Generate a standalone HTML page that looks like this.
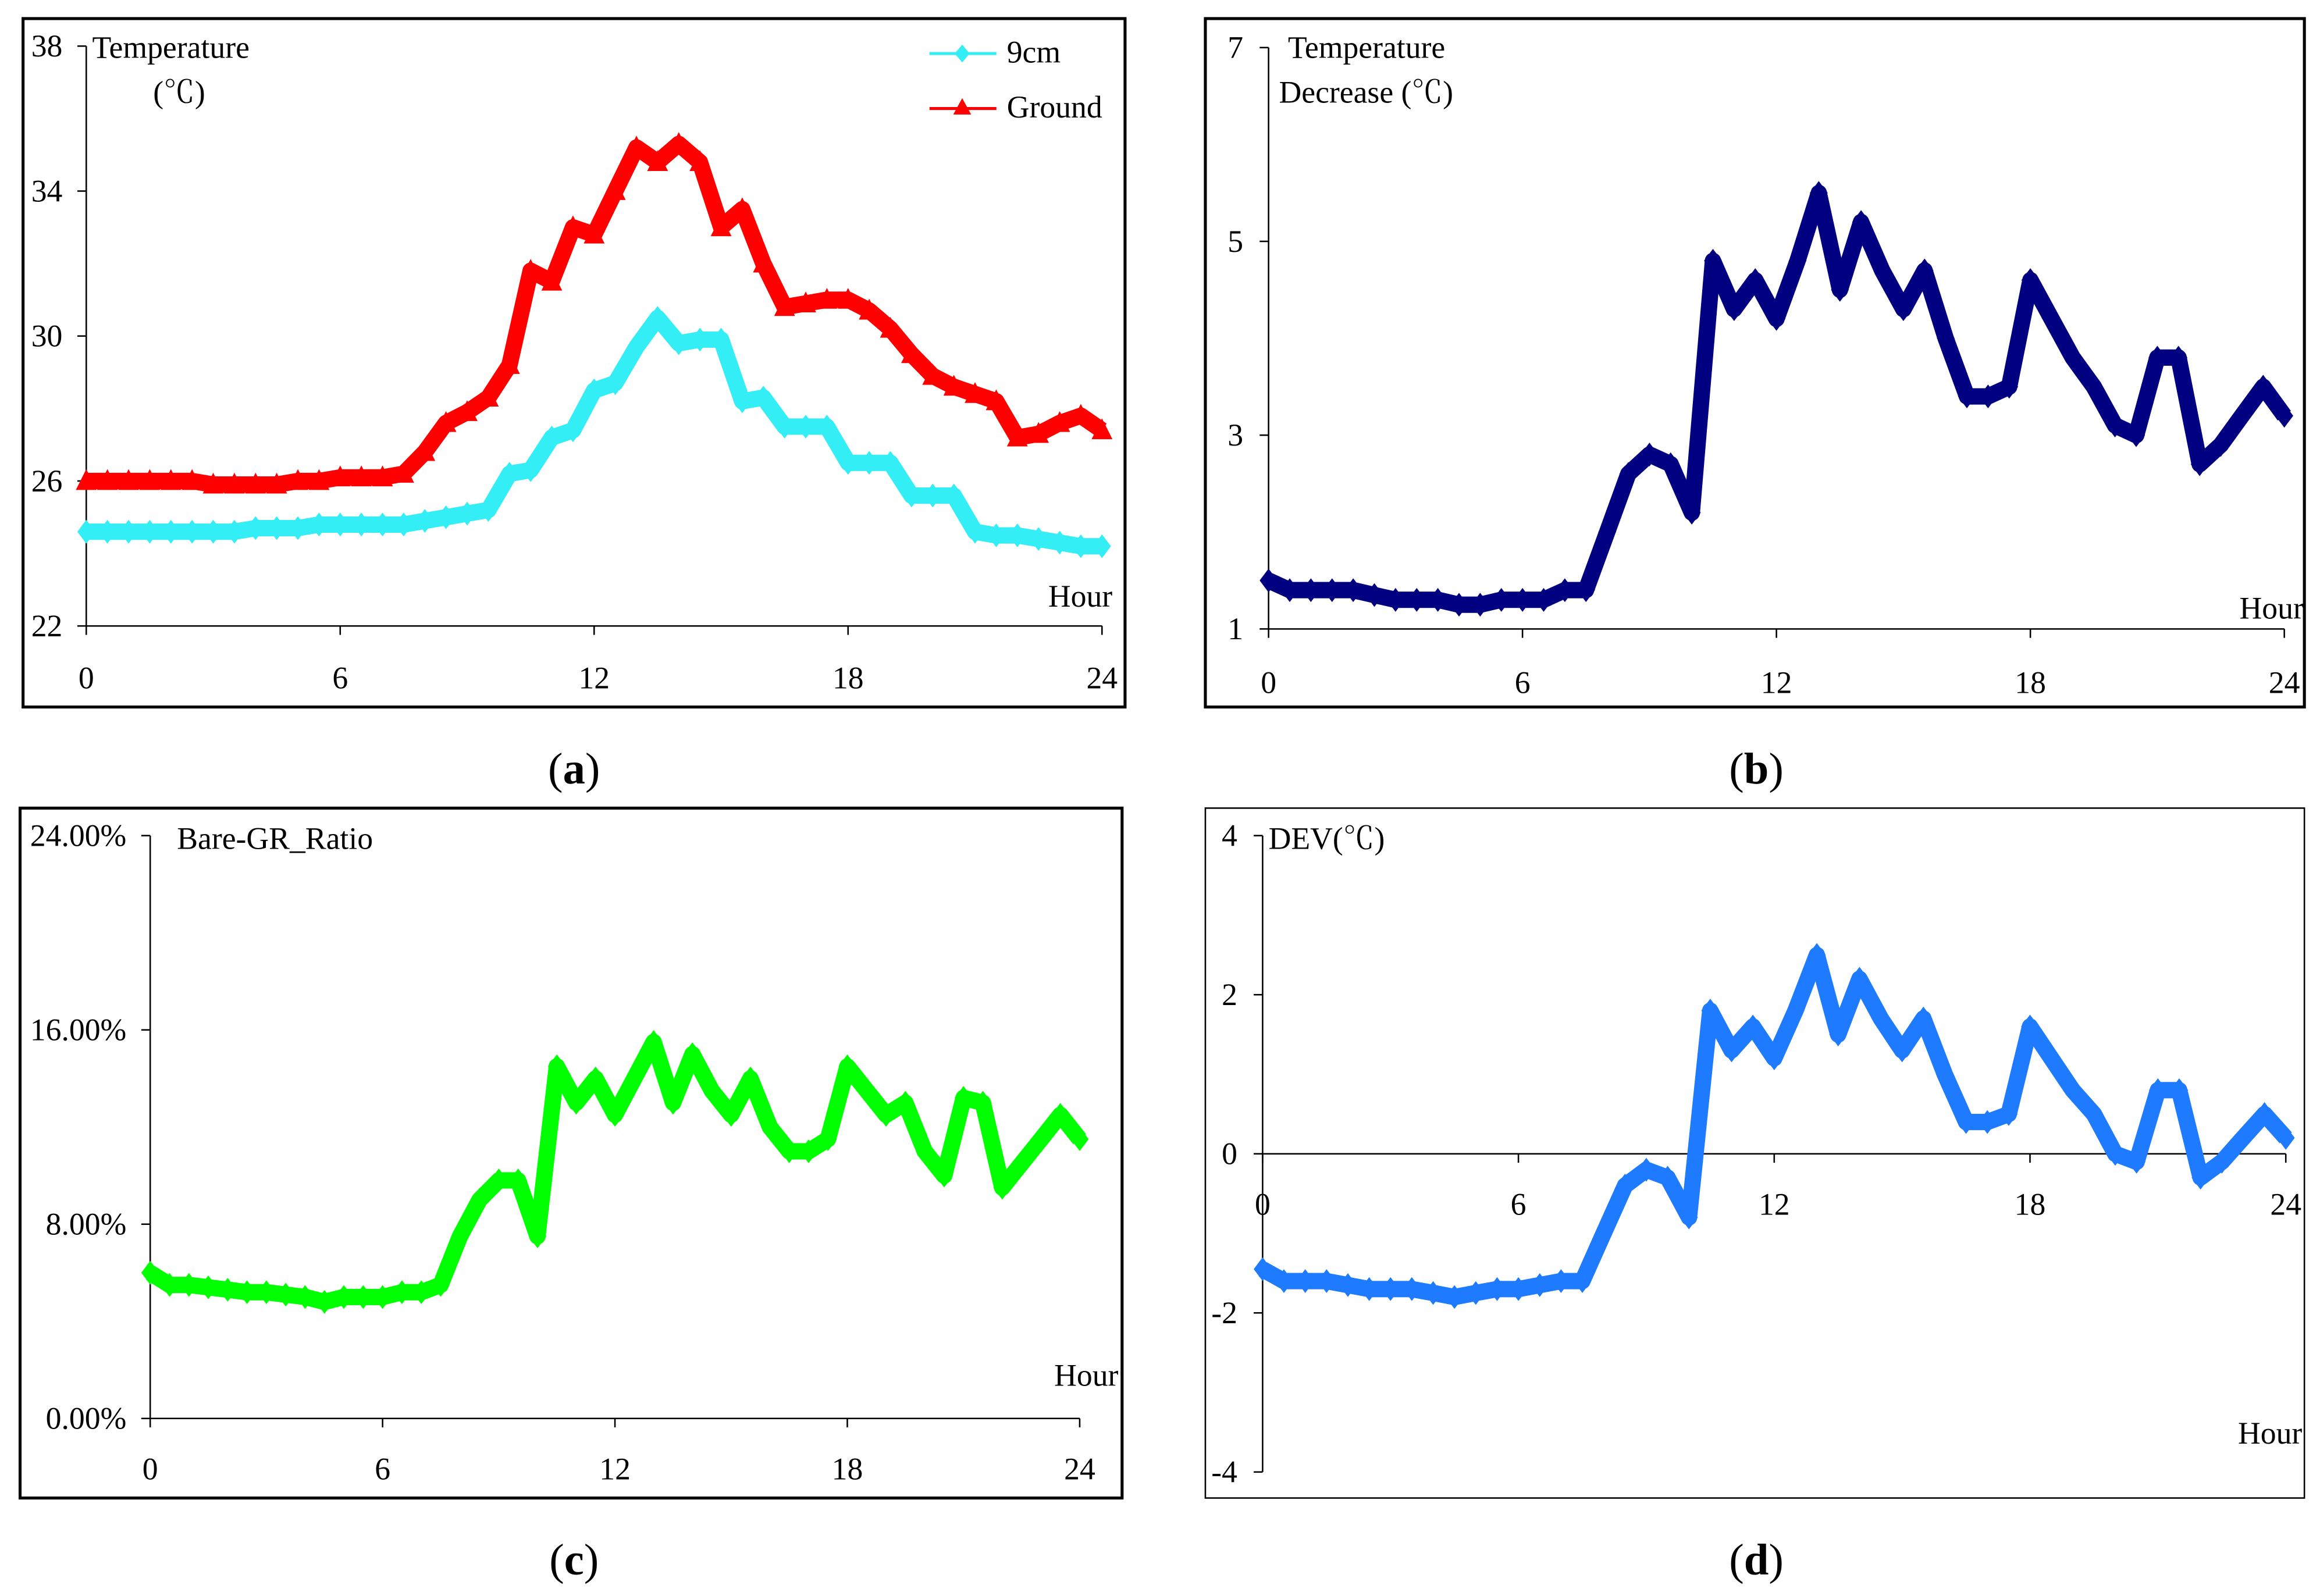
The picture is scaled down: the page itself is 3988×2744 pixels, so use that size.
<!DOCTYPE html>
<html><head><meta charset="utf-8"><style>
html,body{margin:0;padding:0;background:#fff}
svg{display:block}
text{font-family:"Liberation Serif","Noto Serif CJK SC",serif;fill:#000}
</style></head><body>
<svg id="chart" xmlns="http://www.w3.org/2000/svg" width="3988" height="2744" viewBox="0 0 1560 1073.4" preserveAspectRatio="none" font-family="Liberation Serif, Noto Serif CJK SC, serif">
<g><rect x="15.5" y="12.5" width="741" height="463" fill="none" stroke="#000" stroke-width="2"/></g>
<g><rect x="810.5" y="12.5" width="739" height="463" fill="none" stroke="#000" stroke-width="2"/></g>
<g><rect x="13.5" y="543.5" width="741" height="464" fill="none" stroke="#000" stroke-width="2"/></g>
<g><rect x="810.5" y="543.5" width="739" height="464" fill="none" stroke="#000" stroke-width="1"/></g>
<text x="386" y="527" font-size="30" text-anchor="middle" font-family="Liberation Serif, serif">(<tspan font-weight="bold">a</tspan>)</text>
<text x="1181" y="527" font-size="30" text-anchor="middle" font-family="Liberation Serif, serif">(<tspan font-weight="bold">b</tspan>)</text>
<text x="386" y="1059" font-size="30" text-anchor="middle" font-family="Liberation Serif, serif">(<tspan font-weight="bold">c</tspan>)</text>
<text x="1181" y="1059" font-size="30" text-anchor="middle" font-family="Liberation Serif, serif">(<tspan font-weight="bold">d</tspan>)</text>
<g id="plots"></g>
</svg>
<script>
const hours = [0,0.5,1,1.5,2,2.5,3,3.5,4,4.5,5,5.5,6,6.5,7,7.5,8,8.5,9,9.5,10,10.5,11,11.5,12,12.5,13,13.5,14,14.5,15,15.5,16,16.5,17,17.5,18,18.5,19,19.5,20,20.5,21,21.5,22,22.5,23,23.5,24];
const xTickLabels = ["0","6","12","18","24"];
const temp9cm = [24.6,24.6,24.6,24.6,24.6,24.6,24.6,24.6,24.7,24.7,24.7,24.8,24.8,24.8,24.8,24.8,24.9,25.0,25.1,25.2,26.2,26.3,27.2,27.4,28.5,28.7,29.7,30.5,29.8,29.9,29.9,28.2,28.3,27.5,27.5,27.5,26.5,26.5,26.5,25.6,25.6,25.6,24.6,24.5,24.5,24.4,24.3,24.2,24.2];
const tempGround = [26.0,26.0,26.0,26.0,26.0,26.0,25.9,25.9,25.9,25.9,26.0,26.0,26.1,26.1,26.1,26.2,26.8,27.6,27.9,28.3,29.2,31.8,31.5,33.0,32.8,34.0,35.2,34.8,35.3,34.8,33.0,33.5,32.0,30.8,30.9,31.0,31.0,30.7,30.2,29.5,28.9,28.6,28.4,28.2,27.2,27.3,27.6,27.8,27.4];
const tempDecrease = [1.5,1.4,1.4,1.4,1.4,1.35,1.3,1.3,1.3,1.25,1.25,1.3,1.3,1.3,1.4,1.4,2.0,2.6,2.8,2.7,2.2,4.8,4.3,4.6,4.2,4.8,5.5,4.5,5.2,4.7,4.3,4.7,4.0,3.4,3.4,3.5,4.6,4.2,3.8,3.5,3.1,3.0,3.8,3.8,2.7,2.9,3.2,3.5,3.2];
const bareRatio = [6.0,5.5,5.5,5.4,5.3,5.2,5.2,5.1,5.0,4.8,5.0,5.0,5.0,5.2,5.2,5.5,7.5,9.0,9.8,9.8,7.5,14.5,13.0,14.0,12.5,14.0,15.5,13.0,15.0,13.5,12.5,14.0,12.0,11.0,11.0,11.5,14.5,13.5,12.5,13.0,11.0,10.0,13.2,13.0,9.5,10.5,11.5,12.5,11.5];
const devValues = [-1.45,-1.6,-1.6,-1.6,-1.65,-1.7,-1.7,-1.7,-1.75,-1.8,-1.75,-1.7,-1.7,-1.65,-1.6,-1.6,-1.0,-0.4,-0.2,-0.3,-0.8,1.8,1.3,1.6,1.2,1.8,2.5,1.5,2.2,1.7,1.3,1.7,1.0,0.4,0.4,0.5,1.6,1.2,0.8,0.5,0.0,-0.1,0.8,0.8,-0.3,-0.1,0.2,0.5,0.2];
const aTicks = [22,26,30,34,38];
const bTicks = [1,3,5,7];
const cTicks = [0,8,16,24];
const cTickLabels = ["0.00%","8.00%","16.00%","24.00%"];
const dTicks = [-4,-2,0,2,4];

const NS="http://www.w3.org/2000/svg";
const root=document.getElementById('plots');
function mk(tag,attrs,parent){const e=document.createElementNS(NS,tag);for(const k in attrs)e.setAttribute(k,attrs[k]);(parent||root).appendChild(e);return e;}
function txt(s,x,y,size,anchor,name){const t=mk('text',{x:x,y:y,'font-size':size,'text-anchor':anchor||'start','font-family':'Liberation Serif, Noto Serif CJK SC, serif'});t.textContent=s;


return t;}

function panel(cfg){
  const xs=v=>cfg.x0+(cfg.x1-cfg.x0)*v/24;
  const ys=v=>cfg.py0+(cfg.py1-cfg.py0)*(v-cfg.ymin)/(cfg.ymax-cfg.ymin);
  const g=mk('g',{});
  
  
  const ya=mk('line',{x1:cfg.x0,y1:ys(cfg.ymin),x2:cfg.x0,y2:ys(cfg.ymax),stroke:'#000','stroke-width':1},g);
  
  
  const xaY=ys(cfg.xAxisAt);
  const xa=mk('line',{x1:cfg.x0,y1:xaY,x2:cfg.x1,y2:xaY,stroke:'#000','stroke-width':1},g);
  
  
  cfg.yticks.forEach((v,i)=>{
    const tk=mk('line',{x1:cfg.x0,y1:ys(v),x2:cfg.x0-6,y2:ys(v),stroke:'#000','stroke-width':1},g);
    
    
    txt(cfg.ylabels?cfg.ylabels[i]:String(v),cfg.ylx,ys(v)+7,21,'end','y-tick-label');
  });
  xTickLabels.forEach(s=>{
    const v=+s;
    const tk=mk('line',{x1:xs(v),y1:xaY,x2:xs(v),y2:xaY+6,stroke:'#000','stroke-width':1},g);
    
    
    txt(s,xs(v),cfg.xly,21,'middle','x-tick-label');
  });
  cfg.series.forEach(s=>{
    const sg=mk('g',{},g);
    
    
    const pts=hours.map((h,i)=>xs(h).toFixed(1)+','+ys(s.data[i]).toFixed(1)).join(' ');
    const pl=mk('polyline',{points:pts,fill:'none',stroke:s.color,'stroke-width':11,'stroke-linejoin':'round'},sg);
    
    
    hours.forEach((h,i)=>{
      const x=xs(h),y=ys(s.data[i]);
      const d=s.tri?`M${x},${y-8}L${x+7},${y+6}L${x-7},${y+6}Z`:`M${x},${y-8}L${x+6},${y}L${x},${y+8}L${x-6},${y}Z`;
      const m=mk('path',{d:d,fill:s.color},sg);
      
      
    });
  });
}

panel({name:'panel-a-temperature',x0:58,x1:741,ymin:22,ymax:38,py0:421,py1:31,xAxisAt:22,yticks:aTicks,ylx:42,xly:463,
  series:[{name:'series-9cm',data:temp9cm,color:'#33EEF5'},{name:'series-ground',data:tempGround,color:'#FF0000',tri:true}]});
panel({name:'panel-b-temperature-decrease',x0:853,x1:1536,ymin:1,ymax:7,py0:423,py1:32,xAxisAt:1,yticks:bTicks,ylx:836,xly:466,
  series:[{name:'series-decrease',data:tempDecrease,color:'#000080'}]});
panel({name:'panel-c-bare-gr-ratio',x0:101,x1:726,ymin:0,ymax:24,py0:954,py1:562,xAxisAt:0,yticks:cTicks,ylabels:cTickLabels,ylx:85,xly:995,
  series:[{name:'series-ratio',data:bareRatio,color:'#00FF00'}]});
panel({name:'panel-d-dev',x0:849,x1:1537,ymin:-4,ymax:4,py0:990,py1:562,xAxisAt:0,yticks:dTicks,ylx:832,xly:817,
  series:[{name:'series-dev',data:devValues,color:'#1E7BFF'}]});

txt('Temperature',62,39,21,'start','panel-a-y-title');
txt('(℃)',103,69,21,'start','panel-a-y-unit');
txt('Hour',748,408,21,'end','panel-a-x-title');
const lg=mk('g',{});


mk('line',{x1:625,y1:36,x2:670,y2:36,stroke:'#33EEF5','stroke-width':2},lg);
mk('path',{d:'M647,30L652,36L647,42L642,36Z',fill:'#33EEF5'},lg);
mk('line',{x1:625,y1:73,x2:670,y2:73,stroke:'#FF0000','stroke-width':2},lg);
mk('path',{d:'M647,66L653,77L641,77Z',fill:'#FF0000'},lg);
txt('9cm',677,42,21,'start','legend-entry-9cm');
txt('Ground',677,79,21,'start','legend-entry-ground');
txt('Temperature',866,39,21,'start','panel-b-y-title');
txt('Decrease (℃)',860,69,21,'start','panel-b-y-unit');
txt('Hour',1549,416,21,'end','panel-b-x-title');
txt('Bare-GR_Ratio',119,571,21,'start','panel-c-y-title');
txt('Hour',752,932,21,'end','panel-c-x-title');
txt('DEV(℃)',853,571,21,'start','panel-d-y-title');
txt('Hour',1548,971,21,'end','panel-d-x-title');
</script>
</body></html>
